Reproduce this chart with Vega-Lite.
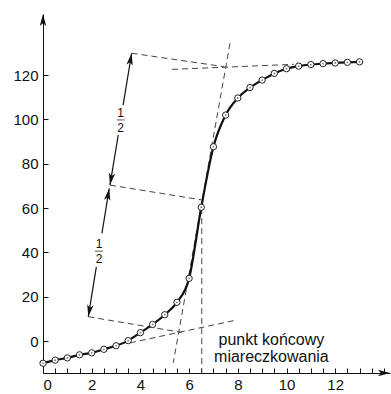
{
  "$schema": "https://vega.github.io/schema/vega-lite/v6.json",
  "width": 347,
  "height": 359,
  "autosize": "none",
  "padding": {"left": 43, "top": 14, "right": 1, "bottom": 21},
  "background": "white",
  "config": {
    "view": {"stroke": null},
    "font": "Liberation Sans",
    "axis": {
      "grid": false, "title": null, "domainColor": "#111", "domainWidth": 1,
      "tickColor": "#111", "tickWidth": 1, "labelFont": "Liberation Sans",
      "labelFontSize": 15, "labelColor": "#111", "labelOverlap": false
    }
  },
  "datasets": {
    "curve": [
      {"v": 0, "e": -10.0}, {"v": 0.5, "e": -8.6}, {"v": 1, "e": -7.6}, {"v": 1.5, "e": -6.2},
      {"v": 2, "e": -5.3}, {"v": 2.5, "e": -3.7}, {"v": 3, "e": -2.1}, {"v": 3.5, "e": 0.2},
      {"v": 4, "e": 3.8}, {"v": 4.5, "e": 7.5}, {"v": 5, "e": 11.9}, {"v": 5.5, "e": 17.5},
      {"v": 6, "e": 28.3}, {"v": 6.5, "e": 60.4}, {"v": 7, "e": 87.7}, {"v": 7.5, "e": 102.0},
      {"v": 8, "e": 109.7}, {"v": 8.5, "e": 114.4}, {"v": 9, "e": 117.8}, {"v": 9.5, "e": 120.8},
      {"v": 10, "e": 122.9}, {"v": 10.5, "e": 124.1}, {"v": 11, "e": 124.8}, {"v": 11.5, "e": 125.2},
      {"v": 12, "e": 125.5}, {"v": 12.5, "e": 125.8}, {"v": 13, "e": 126.0}
    ],
    "dashes": [
      {"seg": "A", "o": 0, "v": 3.64, "e": 129.9}, {"seg": "A", "o": 1, "v": 7.45, "e": 123.8},
      {"seg": "B", "o": 0, "v": 5.3, "e": 122.6}, {"seg": "B", "o": 1, "v": 10.3, "e": 124.9},
      {"seg": "C", "o": 0, "v": 7.68, "e": 134.4}, {"seg": "C", "o": 1, "v": 5.35, "e": -9.8},
      {"seg": "D", "o": 0, "v": 2.75, "e": 70.4}, {"seg": "D", "o": 1, "v": 6.52, "e": 63.7},
      {"seg": "E", "o": 0, "v": 1.86, "e": 11.0}, {"seg": "E", "o": 1, "v": 5.7, "e": 3.9},
      {"seg": "F", "o": 0, "v": 3.57, "e": -0.8}, {"seg": "F", "o": 1, "v": 7.95, "e": 9.5},
      {"seg": "G", "o": 0, "v": 6.52, "e": 60.0}, {"seg": "G", "o": 1, "v": 6.52, "e": -14.4}
    ],
    "shafts": [
      {"seg": "u1", "o": 0, "v": 3.64, "e": 129.9}, {"seg": "u1", "o": 1, "v": 3.29, "e": 106.5},
      {"seg": "u2", "o": 0, "v": 3.09, "e": 93.0}, {"seg": "u2", "o": 1, "v": 2.75, "e": 70.4},
      {"seg": "l1", "o": 0, "v": 2.72, "e": 68.9}, {"seg": "l1", "o": 1, "v": 2.42, "e": 48.6},
      {"seg": "l2", "o": 0, "v": 2.19, "e": 33.5}, {"seg": "l2", "o": 1, "v": 1.86, "e": 11.0}
    ],
    "heads": [
      {"v": 3.64, "e": 129.9, "dir": "up"}, {"v": 2.75, "e": 70.4, "dir": "down"},
      {"v": 2.72, "e": 68.9, "dir": "up"}, {"v": 1.86, "e": 11.0, "dir": "down"},
      {"v": 0, "e": 147.6, "dir": "axisup"}, {"v": 14.25, "e": -14.4, "dir": "axisright"}
    ],
    "fractions": [
      {"v": 3.19, "e": 99.8}, {"v": 2.3, "e": 40.6}
    ],
    "notes": [
      {"v": 9.38, "e": -1.8, "t": "punkt końcowy"},
      {"v": 9.38, "e": -9.25, "t": "miareczkowania"}
    ]
  },
  "encoding": {
    "x": {"field": "v", "type": "quantitative",
      "scale": {"domain": [0, 14.25], "nice": false, "zero": false},
      "axis": {"values": [0,0.5,1,1.5,2,2.5,3,3.5,4,4.5,5,5.5,6,6.5,7,7.5,8,8.5,9,9.5,10,10.5,11,11.5,12,12.5,13,13.5,14],
        "labelExpr": "(datum.value % 2 === 0 && datum.value <= 12) ? format(datum.value, 'd') : ''", "tickSize": -5, "labelPadding": 9}},
    "y": {"field": "e", "type": "quantitative",
      "scale": {"domain": [-14.4, 147.6], "nice": false, "zero": false},
      "axis": {"values": [0, 20, 40, 60, 80, 100, 120], "tickSize": -5, "labelPadding": 10}}
  },
  "layer": [
    {
      "data": {"name": "dashes"},
      "mark": {"type": "line", "color": "#444", "strokeWidth": 1, "strokeDash": [6, 4]},
      "encoding": {"detail": {"field": "seg"}, "order": {"field": "o"}}
    },
    {
      "data": {"name": "shafts"},
      "mark": {"type": "line", "color": "#111", "strokeWidth": 1.2},
      "encoding": {"detail": {"field": "seg"}, "order": {"field": "o"}}
    },
    {
      "data": {"name": "curve"},
      "mark": {"type": "line", "color": "#111", "strokeWidth": 2.2, "interpolate": "monotone"},
      "encoding": {}
    },
    {
      "data": {"name": "curve"},
      "mark": {"type": "point", "shape": "circle", "filled": true, "fill": "white", "stroke": "#222", "strokeWidth": 1, "size": 40, "opacity": 1},
      "encoding": {}
    },
    {
      "data": {"name": "curve"},
      "mark": {"type": "point", "shape": "circle", "filled": true, "color": "#333", "size": 3},
      "encoding": {}
    },
    {
      "data": {"name": "heads"},
      "transform": [{"filter": "datum.dir === 'up'"}],
      "mark": {"type": "point", "shape": "M0,0L-0.8,3L0,2.3L0.8,3Z", "filled": true, "color": "#111", "size": 64, "opacity": 1, "angle": 10},
      "encoding": {}
    },
    {
      "data": {"name": "heads"},
      "transform": [{"filter": "datum.dir === 'down'"}],
      "mark": {"type": "point", "shape": "M0,0L-0.8,3L0,2.3L0.8,3Z", "filled": true, "color": "#111", "size": 64, "opacity": 1, "angle": 190},
      "encoding": {}
    },
    {
      "data": {"name": "heads"},
      "transform": [{"filter": "datum.dir === 'axisup'"}],
      "mark": {"type": "point", "shape": "M0,0L-0.8,3L0,2.3L0.8,3Z", "filled": true, "color": "#111", "size": 64, "opacity": 1, "angle": 0},
      "encoding": {}
    },
    {
      "data": {"name": "heads"},
      "transform": [{"filter": "datum.dir === 'axisright'"}],
      "mark": {"type": "point", "shape": "M0,0L-0.8,3L0,2.3L0.8,3Z", "filled": true, "color": "#111", "size": 64, "opacity": 1, "angle": 90},
      "encoding": {}
    },
    {
      "data": {"name": "fractions"},
      "mark": {"type": "text", "text": "1", "fontSize": 12, "dy": -7, "color": "#111"},
      "encoding": {}
    },
    {
      "data": {"name": "fractions"},
      "mark": {"type": "text", "text": "2", "fontSize": 12, "dy": 8, "color": "#111"},
      "encoding": {}
    },
    {
      "data": {"name": "fractions"},
      "mark": {"type": "tick", "orient": "horizontal", "size": 8, "thickness": 1, "color": "#111"},
      "encoding": {}
    },
    {
      "data": {"name": "notes"},
      "mark": {"type": "text", "fontSize": 16, "align": "center", "baseline": "alphabetic", "color": "#111"},
      "encoding": {"text": {"field": "t"}}
    }
  ]
}
